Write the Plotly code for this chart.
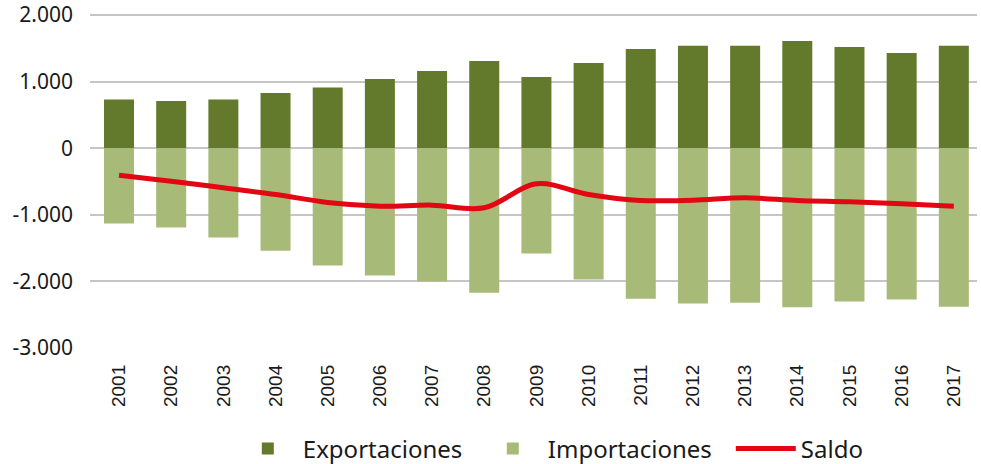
import plotly.graph_objects as go

years = [str(y) for y in range(2001, 2018)]
exportaciones = [730, 710, 730, 830, 910, 1040, 1160, 1310, 1070, 1280, 1490, 1540, 1540, 1610, 1520, 1430, 1540]
importaciones = [-1130, -1190, -1340, -1540, -1760, -1910, -2000, -2170, -1580, -1970, -2260, -2330, -2320, -2390, -2300, -2270, -2380]
saldo = [-405, -495, -595, -695, -815, -870, -855, -895, -535, -695, -785, -780, -745, -785, -805, -835, -870]

y_tickvals = [2000, 1000, 0, -1000, -2000, -3000]
y_ticktext = ["2.000", "1.000", "0", "-1.000", "-2.000", "-3.000"]

DARK = "#637A2C"
LIGHT = "#A8BA78"
RED = "#E30613"

fig = go.Figure()
fig.add_trace(go.Bar(x=years, y=exportaciones, name="Exportaciones", legendwidth=170,
                     marker=dict(color=DARK, line=dict(width=0)), width=0.575))
fig.add_trace(go.Bar(x=years, y=importaciones, name="Importaciones", legendwidth=178,
                     marker=dict(color=LIGHT, line=dict(width=0)), width=0.575))
fig.add_trace(go.Scatter(x=years, y=saldo, name="Saldo", mode="lines",
                         line=dict(color=RED, width=5, shape="spline", smoothing=1)))

fig.update_layout(
    width=981, height=464,
    margin=dict(l=90, r=4, t=12, b=116, autoexpand=False),
    barmode="relative",
    plot_bgcolor="white", paper_bgcolor="white",
    font=dict(family="Noto Sans", color="#1a1a1a"),
    legend=dict(orientation="h", x=0.161, xanchor="left", y=-0.30, yanchor="middle",
                font=dict(family="Noto Sans", size=24, color="#1a1a1a"),
                itemwidth=60, traceorder="normal"),
    showlegend=True,
)
fig.update_xaxes(type="category", range=[-0.556, 16.444], tickangle=-90, automargin=False,
                 tickfont=dict(family="Liberation Sans", size=19, color="#1a1a1a"),
                 showgrid=False, showline=False, ticks="", ticklabelstandoff=12)
fig.update_yaxes(range=[-3000, 2045], tickvals=y_tickvals, ticktext=y_ticktext, automargin=False,
                 tickfont=dict(family="Noto Sans", size=21, color="#1a1a1a"),
                 showgrid=True, gridcolor="#C6C6C6", gridwidth=1.5, zeroline=False,
                 showline=False, ticks="", ticklabelstandoff=16, ticklabeloverflow="allow")

# remove the browser's default 8px page margin so the figure fills the window
fig.write_html("out.html", config={"displayModeBar": False},
               post_script="document.body.style.margin='0px';")
